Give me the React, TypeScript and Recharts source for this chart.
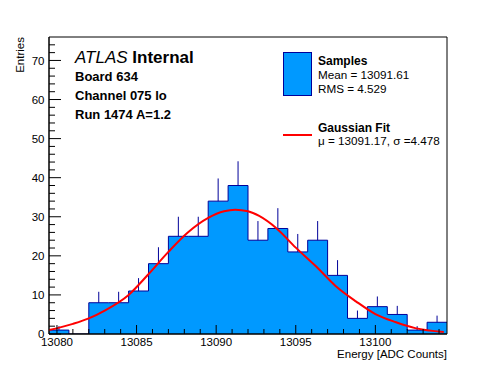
import React from 'react';
import {
  ComposedChart,
  Area,
  Line,
  Scatter,
  ErrorBar,
  XAxis,
  YAxis,
  ReferenceArea,
  Legend,
  Label,
} from 'recharts';

// ---------- data ----------
const binLowEdges = [
  13079.5, 13080.75, 13082, 13083.25, 13084.5, 13085.75, 13087, 13088.25, 13089.5, 13090.75,
  13092, 13093.25, 13094.5, 13095.75, 13097, 13098.25, 13099.5, 13100.75, 13102, 13103.25,
];
const histUpperEdge = 13104.5;
const binCenters = [
  13080.125, 13081.375, 13082.625, 13083.875, 13085.125, 13086.375, 13087.625, 13088.875, 13090.125, 13091.375,
  13092.625, 13093.875, 13095.125, 13096.375, 13097.625, 13098.875, 13100.125, 13101.375, 13102.625, 13103.875,
];
const counts = [1, 0, 8, 8, 11, 18, 25, 25, 34, 38, 24, 27, 21, 24, 15, 4, 7, 5, 1, 3];
const countErrors = [1, 0, 2.8, 2.8, 3.3, 4.2, 5, 5, 5.8, 6.2, 4.9, 5.2, 4.6, 4.9, 3.9, 2, 2.6, 2.2, 1, 1.7];

const fitEnergy = [
  13079.5, 13081.0, 13082.0, 13083.0, 13084.5, 13085.7, 13087.0, 13088.2, 13089.5, 13090.5,
  13091.2, 13092.0, 13092.7, 13093.8, 13095.0, 13096.3, 13097.5, 13098.8, 13100.0, 13101.3,
  13102.5, 13104.3,
];
const fitValue = [
  1.0, 2.6, 4.0, 6.0, 10.0, 15.1, 21.0, 25.9, 29.7, 31.4,
  31.8, 31.4, 30.2, 27.0, 22.1, 17.2, 12.3, 8.3, 5.1, 3.0,
  1.5, 0.5,
];

const xTicks = [
  13080, 13081, 13082, 13083, 13084, 13085, 13086, 13087, 13088, 13089, 13090, 13091, 13092,
  13093, 13094, 13095, 13096, 13097, 13098, 13099, 13100, 13101, 13102, 13103, 13104,
];
const xMajor = [13080, 13085, 13090, 13095, 13100];
const yTicks = [
  0, 2, 4, 6, 8, 10, 12, 14, 16, 18, 20, 22, 24, 26, 28, 30, 32, 34, 36, 38, 40, 42, 44, 46, 48,
  50, 52, 54, 56, 58, 60, 62, 64, 66, 68, 70, 72, 74,
];
const yMajor = [0, 10, 20, 30, 40, 50, 60, 70];
const xDomain: [number, number] = [13079.5, 13104.5];
const yDomain: [number, number] = [0, 76];

const legendSamples = ['Samples', 'Mean = 13091.61', 'RMS = 4.529'];
const legendFit = ['Gaussian Fit', 'μ = 13091.17, σ =4.478'];
const infoLines = ['Board 634', 'Channel 075 lo', 'Run 1474 A=1.2'];

// ---------- derived tables ----------
const histData = [
  ...binLowEdges.map((e, i) => ({ x: e, y: counts[i] })),
  { x: histUpperEdge, y: counts[counts.length - 1] },
];
const errData = binCenters.map((c, i) => ({ x: c, y: counts[i], err: [0, countErrors[i]] }));
const fitData = fitEnergy.map((e, i) => ({ x: e, y: fitValue[i] }));

const FONT = '"Liberation Sans", Arial, Helvetica, sans-serif';
const FILL = '#0099ff';
const EDGE = '#000099';
const TM = 4;

const XTick = (props: any) => {
  const { x, y, payload } = props;
  const v = payload.value;
  const major = xMajor.includes(v);
  const axisY = y - TM;
  return (
    <g>
      <line x1={x} x2={x} y1={axisY} y2={axisY - (major ? 9 : 5)} stroke="#000" strokeWidth={1} />
      {major && (
        <text x={x} y={axisY + 12} textAnchor="middle" fontSize={11.5} fontFamily={FONT} fill="#000">
          {v}
        </text>
      )}
    </g>
  );
};

const YTick = (props: any) => {
  const { x, y, payload } = props;
  const v = payload.value;
  const major = yMajor.includes(v);
  const axisX = x + TM;
  return (
    <g>
      <line x1={axisX} x2={axisX + (major ? 12 : 6)} y1={y} y2={y} stroke="#000" strokeWidth={1} />
      {major && (
        <text x={axisX - 4.5} y={y + 4.2} textAnchor="end" fontSize={11.5} fontFamily={FONT} fill="#000">
          {v}
        </text>
      )}
    </g>
  );
};

const LegendBox = () => (
  <svg width={170} height={100} style={{ display: 'block' }}>
    <rect x={3.5} y={2.5} width={28} height={43} fill={FILL} stroke={EDGE} strokeWidth={1} />
    <text x={38} y={15} fontSize={12} fontWeight="bold" fontFamily={FONT}>{legendSamples[0]}</text>
    <text x={38} y={29.3} fontSize={11.7} fontFamily={FONT}>{legendSamples[1]}</text>
    <text x={38} y={43.3} fontSize={11.7} fontFamily={FONT}>{legendSamples[2]}</text>
    <line x1={3} x2={32} y1={85} y2={85} stroke="#ff0000" strokeWidth={2} />
    <text x={38} y={81.7} fontSize={12} fontWeight="bold" fontFamily={FONT}>{legendFit[0]}</text>
    <text x={38} y={95} fontSize={11.7} fontFamily={FONT}>{legendFit[1]}</text>
  </svg>
);

export default function App() {
  return (
    <div style={{ position: 'absolute', left: 0, top: 0, width: 496, height: 372, background: '#fff' }}>
      <ComposedChart
        width={496}
        height={372}
        margin={{ top: 37, right: 49, bottom: 0, left: 0 }}
      >
        <Area
          data={histData}
          dataKey="y"
          type="stepAfter"
          fill={FILL}
          fillOpacity={1}
          stroke={EDGE}
          strokeWidth={1}
          dot={false}
          activeDot={false}
          isAnimationActive={false}
        />
        <Scatter data={errData} dataKey="y" shape={() => <g />} isAnimationActive={false}>
          <ErrorBar dataKey="err" direction="y" width={0} stroke={EDGE} strokeWidth={1} isAnimationActive={false} />
        </Scatter>
        <Line
          data={fitData}
          dataKey="y"
          type="monotone"
          stroke="#ff0000"
          strokeWidth={2}
          dot={false}
          activeDot={false}
          isAnimationActive={false}
        />
        <XAxis
          dataKey="x"
          type="number"
          domain={xDomain}
          allowDataOverflow
          ticks={xTicks}
          interval={0}
          tickSize={0}
          tickMargin={TM}
          tickLine={false}
          tick={<XTick />}
          height={38}
          stroke="#000"
        >
          <Label
            content={(p: any) => {
              const vb = p.viewBox;
              return (
                <text x={vb.x + vb.width} y={vb.y + 24} textAnchor="end" fontSize={11.5} fontFamily={FONT} fill="#000">
                  Energy [ADC Counts]
                </text>
              );
            }}
          />
        </XAxis>
        <YAxis
          dataKey="y"
          type="number"
          domain={yDomain}
          allowDataOverflow
          ticks={yTicks}
          interval={0}
          tickSize={0}
          tickMargin={TM}
          tickLine={false}
          tick={<YTick />}
          width={49}
          stroke="#000"
        >
          <Label
            content={(p: any) => {
              const vb = p.viewBox;
              return (
                <text
                  x={24}
                  y={vb.y}
                  transform={`rotate(-90, 24, ${vb.y})`}
                  textAnchor="end"
                  fontSize={11.5}
                  fontFamily={FONT}
                  fill="#000"
                >
                  Entries
                </text>
              );
            }}
          />
        </YAxis>
        <ReferenceArea
          x1={xDomain[0]}
          x2={xDomain[1]}
          y1={yDomain[0]}
          y2={yDomain[1]}
          fill="none"
          fillOpacity={0}
          stroke="#000"
          strokeWidth={1}
          ifOverflow="visible"
        />
        <Legend
          layout="vertical"
          align="center"
          verticalAlign="middle"
          content={() => <LegendBox />}
          wrapperStyle={{ position: 'absolute', left: 280, top: 50, width: 170, height: 100 }}
        />
      </ComposedChart>
      <svg
        width={496}
        height={372}
        style={{ position: 'absolute', left: 0, top: 0, pointerEvents: 'none' }}
      >
        <text x={75} y={63} fontSize={17} fontFamily={FONT} fill="#000">
          <tspan fontStyle="italic">ATLAS</tspan>
          <tspan fontWeight="bold"> Internal</tspan>
        </text>
        {infoLines.map((t, i) => (
          <text key={t} x={75} y={81 + i * 19} fontSize={13} fontWeight="bold" fontFamily={FONT} fill="#000">
            {t}
          </text>
        ))}
      </svg>
    </div>
  );
}
